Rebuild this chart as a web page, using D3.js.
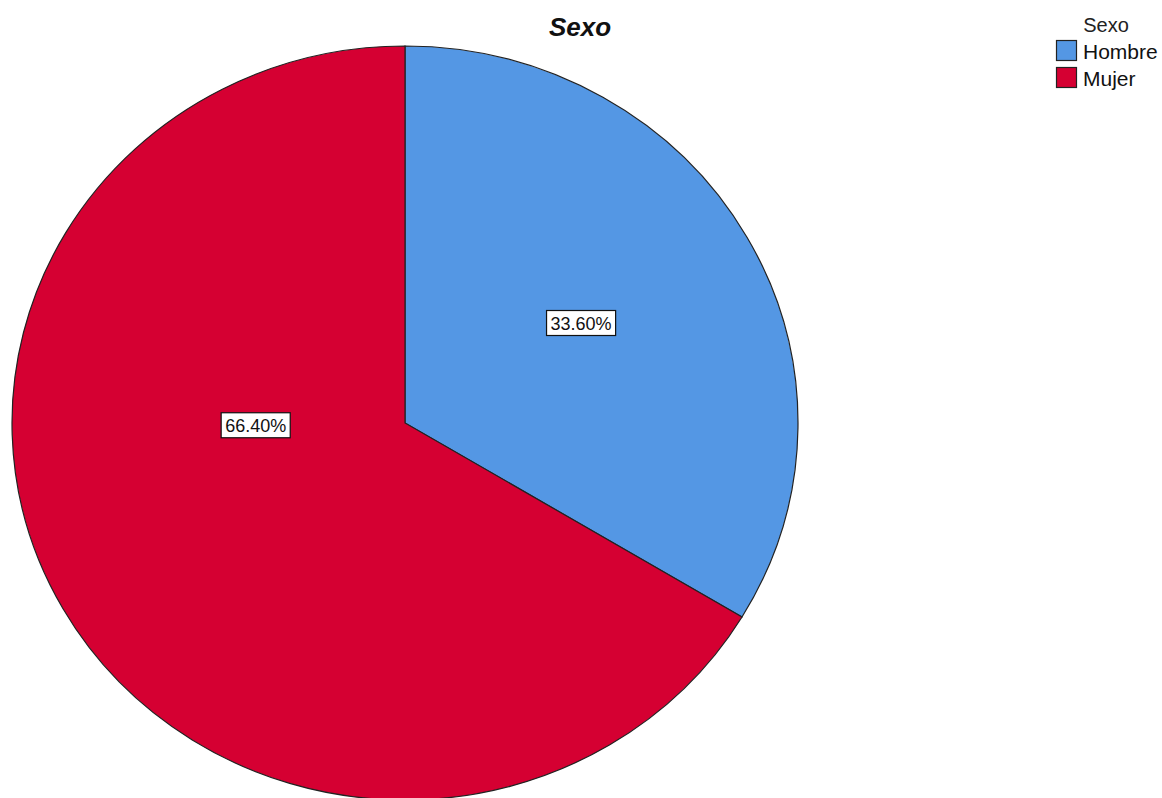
<!DOCTYPE html>
<html>
<head>
<meta charset="utf-8">
<script src="https://cdn.jsdelivr.net/npm/d3@7"></script>
<style>
  body { margin: 0; background: #fff; }
  svg text { font-family: "Liberation Sans", Arial, sans-serif; }
</style>
</head>
<body>
<svg id="chart" width="1162" height="798"></svg>
<script>
// data
var categories = ["Hombre", "Mujer"];
var percents = [33.60, 66.40];
var colors = ["#5497e4", "#d50032"];
var chartTitle = "Sexo";
var legendTitle = "Sexo";

var svg = d3.select("#chart");
var cx = 405, cy = 423;
var rx = 393, ry = 377;

var pie = d3.pie().sort(null).value(function(d) { return d.value; });
var slices = pie(categories.map(function(c, i) { return {name: c, value: percents[i], color: colors[i]}; }));

var arc = d3.arc().innerRadius(0).outerRadius(rx);

// slightly squashed vertically like the original export
var g = svg.append("g")
    .attr("transform", "translate(" + cx + "," + cy + ") scale(1," + (ry / rx) + ")");

g.selectAll("path")
    .data(slices)
    .enter().append("path")
    .attr("d", arc)
    .attr("fill", function(d) { return d.data.color; })
    .attr("stroke", "#222")
    .attr("stroke-width", 1.2)
    .attr("vector-effect", "non-scaling-stroke");

// label placement (SPSS puts them on its own spots)
var labelPlace = [
    {angle: 59.5, k: 0.52},
    {angle: 268.9, k: 0.38}
];

var labels = svg.append("g").selectAll("g")
    .data(slices)
    .enter().append("g")
    .attr("transform", function(d, i) {
        var a = labelPlace[i].angle * Math.PI / 180;
        var x = cx + Math.sin(a) * rx * labelPlace[i].k;
        var y = cy - Math.cos(a) * ry * labelPlace[i].k;
        return "translate(" + x + "," + y + ")";
    });

labels.append("text")
    .attr("text-anchor", "middle")
    .attr("dy", "0.36em")
    .attr("font-size", 18)
    .attr("fill", "#111")
    .text(function(d) { return d.data.value.toFixed(2) + "%"; })
    .each(function() {
        var b = this.getBBox();
        d3.select(this.parentNode).insert("rect", "text")
            .attr("x", b.x - 4)
            .attr("y", -13)
            .attr("width", b.width + 8)
            .attr("height", 25)
            .attr("fill", "#fff")
            .attr("stroke", "#111")
            .attr("stroke-width", 1.2);
    });

// title
svg.append("text")
    .attr("x", 580)
    .attr("y", 36)
    .attr("text-anchor", "middle")
    .attr("font-size", 26)
    .attr("font-weight", "bold")
    .attr("font-style", "italic")
    .attr("fill", "#111")
    .text(chartTitle);

// legend
var legend = svg.append("g").attr("transform", "translate(1056,0)");
legend.append("text")
    .attr("x", 50)
    .attr("y", 32)
    .attr("text-anchor", "middle")
    .attr("font-size", 20)
    .attr("fill", "#222")
    .text(legendTitle);

var items = legend.selectAll("g.item")
    .data(slices)
    .enter().append("g")
    .attr("class", "item")
    .attr("transform", function(d, i) { return "translate(0," + (40 + i * 27) + ")"; });

items.append("rect")
    .attr("x", 0.5)
    .attr("y", 0.5)
    .attr("width", 20)
    .attr("height", 20)
    .attr("fill", function(d) { return d.data.color; })
    .attr("stroke", "#222")
    .attr("stroke-width", 1.2);

items.append("text")
    .attr("x", 27)
    .attr("y", 19)
    .attr("font-size", 21)
    .attr("fill", "#111")
    .text(function(d) { return d.data.name; });
</script>
</body>
</html>
